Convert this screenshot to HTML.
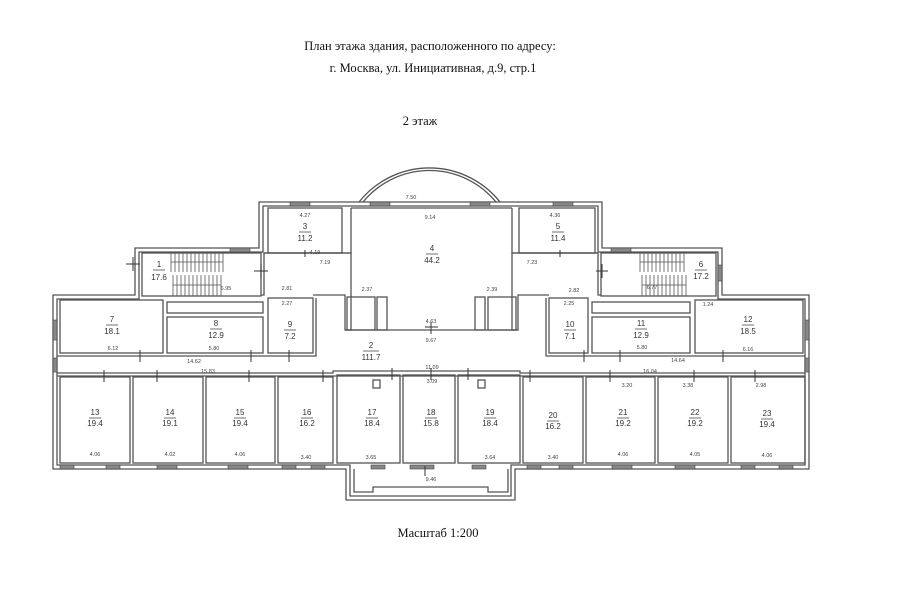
<!DOCTYPE html>
<html><head><meta charset="utf-8"><style>
html,body{margin:0;padding:0;background:#fff;}
svg{display:block}
text{font-family:"Liberation Sans",sans-serif;fill:#333}
.t{font-family:"Liberation Serif",serif;font-size:12.5px;fill:#111}
.n{font-size:8px;text-anchor:middle}
.d{font-size:5.5px;text-anchor:middle;fill:#444}
</style></head><body>
<svg width="900" height="604" viewBox="0 0 900 604" xmlns="http://www.w3.org/2000/svg">
<text class="t" x="430" y="50" text-anchor="middle">План этажа здания, расположенного по адресу:</text>
<text class="t" x="433" y="72" text-anchor="middle">г. Москва, ул. Инициативная, д.9, стр.1</text>
<text class="t" x="420" y="125" text-anchor="middle">2 этаж</text>
<text class="t" x="438" y="537" text-anchor="middle" font-size="11">Масштаб 1:200</text>

<g fill="none" stroke="#555" stroke-width="1.3">
<path d="M359 202 A90 90 0 0 1 500 202"/>
<path d="M363 202 A86 86 0 0 1 496 202"/>
<path d="M53 295 H135 V248 H259 V202 H602 V248 H722 V295 H809 V469 H515 V500 H346 V469 H53 Z"/>
<path d="M57 299 H139 V252 H263 V206 H598 V252 H718 V299 H805 V465 H511 V496 H350 V465 H57 Z"/>
<path d="M354 469 V492 H373 V487 H488 V492 H508 V469"/>
<rect x="268" y="208" width="74" height="45"/>
<rect x="519" y="208" width="76" height="45"/>
<path d="M351 208 V253 H264 V295 H261"/>
<path d="M512 208 V253 H598 V295 H601"/>
<path d="M351 208 H512"/>
<rect x="142" y="253" width="119" height="43"/>
<rect x="601" y="253" width="115" height="43"/>
<path d="M264 253 H351 V330 H345 V295 H313"/>
<path d="M598 253 H512 V330 H518 V295 H549"/>
<rect x="347" y="297" width="28" height="33"/>
<rect x="377" y="297" width="10" height="33"/>
<rect x="475" y="297" width="10" height="33"/>
<rect x="488" y="297" width="28" height="33"/>
<path d="M345 330 H518"/>
<rect x="60" y="300" width="103" height="53"/>
<rect x="167" y="302" width="96" height="11"/>
<rect x="167" y="317" width="96" height="36"/>
<rect x="268" y="298" width="45" height="55"/>
<path d="M57 356 H316 V298"/>
<rect x="549" y="298" width="39" height="55"/>
<rect x="592" y="302" width="98" height="11"/>
<rect x="592" y="317" width="98" height="36"/>
<rect x="695" y="300" width="108" height="53"/>
<path d="M546 298 V356 H805"/>
<path d="M57 373 H333 V371 H520 V373 H805"/>
<path d="M57 376 H805"/>
<rect x="60" y="377" width="70" height="86"/>
<rect x="133" y="377" width="70" height="86"/>
<rect x="206" y="377" width="69" height="86"/>
<rect x="278" y="377" width="55" height="86"/>
<rect x="337" y="375" width="63" height="88"/>
<rect x="403" y="375" width="52" height="88"/>
<rect x="458" y="375" width="62" height="88"/>
<rect x="523" y="377" width="60" height="86"/>
<rect x="586" y="377" width="69" height="86"/>
<rect x="658" y="377" width="70" height="86"/>
<rect x="731" y="377" width="74" height="86"/>
<rect x="373" y="380" width="7" height="8"/>
<rect x="478" y="380" width="7" height="8"/>
</g>
<g stroke="#555" stroke-width="0.8">
<path d="M171 252 V272 M175 252 V272 M179 252 V272 M183 252 V272 M187 252 V272 M191 252 V272 M195 252 V272 M199 252 V272 M203 252 V272 M207 252 V272 M211 252 V272 M215 252 V272 M219 252 V272 M223 252 V272"/>
<path d="M173 275 V296 M177 275 V296 M181 275 V296 M185 275 V296 M189 275 V296 M193 275 V296 M197 275 V296 M201 275 V296 M205 275 V296 M209 275 V296 M213 275 V296 M217 275 V296 M221 275 V296"/>
<path d="M171 262 H223 M173 285 H221"/>
<path d="M640 252 V272 M644 252 V272 M648 252 V272 M652 252 V272 M656 252 V272 M660 252 V272 M664 252 V272 M668 252 V272 M672 252 V272 M676 252 V272 M680 252 V272 M684 252 V272"/>
<path d="M642 275 V296 M646 275 V296 M650 275 V296 M654 275 V296 M658 275 V296 M662 275 V296 M666 275 V296 M670 275 V296 M674 275 V296 M678 275 V296 M682 275 V296 M686 275 V296"/>
<path d="M640 262 H684 M642 285 H686"/>
</g>
<g fill="#888" stroke="#444" stroke-width="0.6">
<rect x="290" y="202" width="20" height="4"/><rect x="370" y="202" width="20" height="4"/><rect x="470" y="202" width="20" height="4"/><rect x="553" y="202" width="20" height="4"/>
<rect x="230" y="248" width="20" height="4"/><rect x="611" y="248" width="20" height="4"/>
<rect x="53" y="320" width="4" height="20"/><rect x="53" y="358" width="4" height="14"/>
<rect x="805" y="320" width="4" height="20"/><rect x="805" y="358" width="4" height="14"/>
<rect x="718" y="265" width="4" height="16"/>
<rect x="60" y="465" width="14" height="4"/><rect x="106" y="465" width="14" height="4"/><rect x="157" y="465" width="20" height="4"/><rect x="228" y="465" width="20" height="4"/><rect x="282" y="465" width="14" height="4"/><rect x="311" y="465" width="14" height="4"/><rect x="371" y="465" width="14" height="4"/><rect x="410" y="465" width="24" height="4"/><rect x="472" y="465" width="14" height="4"/><rect x="527" y="465" width="14" height="4"/><rect x="559" y="465" width="14" height="4"/><rect x="612" y="465" width="20" height="4"/><rect x="675" y="465" width="20" height="4"/><rect x="741" y="465" width="14" height="4"/><rect x="779" y="465" width="14" height="4"/>
</g>
<g>
<text class="n" x="159" y="267">1</text><text class="n" x="159" y="280">17.6</text>
<text class="n" x="305" y="229">3</text><text class="n" x="305" y="241">11.2</text>
<text class="n" x="432" y="251">4</text><text class="n" x="432" y="263">44.2</text>
<text class="n" x="558" y="229">5</text><text class="n" x="558" y="241">11.4</text>
<text class="n" x="701" y="267">6</text><text class="n" x="701" y="279">17.2</text>
<text class="n" x="112" y="322">7</text><text class="n" x="112" y="334">18.1</text>
<text class="n" x="216" y="326">8</text><text class="n" x="216" y="338">12.9</text>
<text class="n" x="290" y="327">9</text><text class="n" x="290" y="339">7.2</text>
<text class="n" x="570" y="327">10</text><text class="n" x="570" y="339">7.1</text>
<text class="n" x="641" y="326">11</text><text class="n" x="641" y="338">12.9</text>
<text class="n" x="748" y="322">12</text><text class="n" x="748" y="334">18.5</text>
<text class="n" x="371" y="348">2</text><text class="n" x="371" y="360">111.7</text>
<text class="n" x="95" y="415">13</text><text class="n" x="95" y="426">19.4</text>
<text class="n" x="170" y="415">14</text><text class="n" x="170" y="426">19.1</text>
<text class="n" x="240" y="415">15</text><text class="n" x="240" y="426">19.4</text>
<text class="n" x="307" y="415">16</text><text class="n" x="307" y="426">16.2</text>
<text class="n" x="372" y="415">17</text><text class="n" x="372" y="426">18.4</text>
<text class="n" x="431" y="415">18</text><text class="n" x="431" y="426">15.8</text>
<text class="n" x="490" y="415">19</text><text class="n" x="490" y="426">18.4</text>
<text class="n" x="553" y="418">20</text><text class="n" x="553" y="429">16.2</text>
<text class="n" x="623" y="415">21</text><text class="n" x="623" y="426">19.2</text>
<text class="n" x="695" y="415">22</text><text class="n" x="695" y="426">19.2</text>
<text class="n" x="767" y="416">23</text><text class="n" x="767" y="427">19.4</text>
</g>
<g stroke="#444" stroke-width="0.7">
<path d="M153 270 H165 M299 232 H311 M426 254 H438 M552 232 H564 M695 270 H707 M106 325 H118 M210 329 H222 M284 330 H296 M564 330 H576 M635 329 H647 M742 325 H754 M363 351 H379"/>
<path d="M89 418 H101 M164 418 H176 M234 418 H246 M301 418 H313 M366 418 H378 M425 418 H437 M484 418 H496 M547 421 H559 M617 418 H629 M689 418 H701 M761 419 H773"/>
</g>
<g>
<text class="d" x="411" y="199">7.50</text><text class="d" x="430" y="219">9.14</text>
<text class="d" x="305" y="217">4.27</text><text class="d" x="315" y="254">4.19</text><text class="d" x="325" y="264">7.19</text>
<text class="d" x="555" y="217">4.36</text><text class="d" x="532" y="264">7.23</text>
<text class="d" x="226" y="290">6.95</text><text class="d" x="652" y="289">6.77</text>
<text class="d" x="287" y="290">2.81</text><text class="d" x="367" y="291">2.37</text>
<text class="d" x="492" y="291">2.39</text><text class="d" x="574" y="292">2.82</text>
<text class="d" x="287" y="305">2.27</text><text class="d" x="569" y="305">2.25</text><text class="d" x="708" y="306">1.24</text>
<text class="d" x="431" y="323">4.63</text><text class="d" x="431" y="342">9.67</text>
<text class="d" x="113" y="350">6.12</text><text class="d" x="214" y="350">5.80</text>
<text class="d" x="642" y="349">5.80</text><text class="d" x="748" y="351">6.16</text>
<text class="d" x="194" y="363">14.62</text><text class="d" x="678" y="362">14.64</text>
<text class="d" x="208" y="373">15.83</text><text class="d" x="650" y="373">16.04</text>
<text class="d" x="432" y="369">11.09</text><text class="d" x="432" y="383">3.09</text>
<text class="d" x="627" y="387">3.20</text><text class="d" x="688" y="387">3.38</text><text class="d" x="761" y="387">2.98</text>
<text class="d" x="95" y="456">4.06</text><text class="d" x="170" y="456">4.02</text><text class="d" x="240" y="456">4.06</text>
<text class="d" x="306" y="459">3.40</text><text class="d" x="371" y="459">3.65</text><text class="d" x="490" y="459">3.64</text>
<text class="d" x="553" y="459">3.40</text><text class="d" x="623" y="456">4.06</text><text class="d" x="695" y="456">4.05</text><text class="d" x="767" y="457">4.06</text>
<text class="d" x="431" y="481">9.46</text>
</g>
<g stroke="#333" stroke-width="1">
<path d="M126 264 H140 M133 257 V271"/><path d="M254 271 H268 M261 264 V278"/>
<path d="M596 271 H608 M602 264 V278"/>
<path d="M140 350 V362 M251 350 V362 M289 350 V362 M584 350 V362 M620 350 V362 M723 350 V362"/>
<path d="M104 370 V382 M157 370 V382 M249 370 V382 M323 370 V382 M392 368 V380 M431 368 V380 M468 368 V380 M530 370 V382 M610 370 V382 M694 370 V382 M755 370 V382"/>
<path d="M425 327 H438 M431 322 V334"/><path d="M425 466 V476"/>
<path d="M305 250 V257 M560 250 V257"/>
</g>
</svg>
</body></html>
